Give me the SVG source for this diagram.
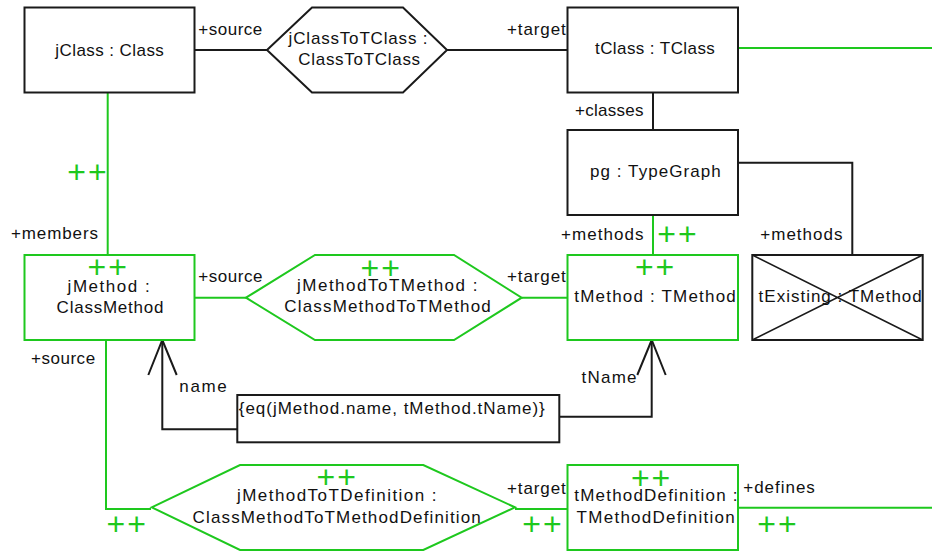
<svg xmlns="http://www.w3.org/2000/svg" width="932" height="552" viewBox="0 0 932 552">
  <style>
    .bg { fill: #ffffff; }
    .box { fill: #ffffff; stroke: #1a1a1a; stroke-width: 2; }
    .gbox { fill: #ffffff; stroke: #1ec81e; stroke-width: 2; }
    .ln { fill: none; stroke: #1a1a1a; stroke-width: 2; }
    .gln { fill: none; stroke: #1ec81e; stroke-width: 2; }
    .thin { fill: none; stroke: #1a1a1a; stroke-width: 1.5; }
    text { font-family: "Liberation Sans", Arial, sans-serif; font-size: 17px; fill: #111111; }
    text.pp { font-size: 32px; letter-spacing: 2px; fill: #1ec81e; }
  </style>
  <rect class="bg" x="0" y="0" width="932" height="552"/>

  <!-- connectors -->
  <g id="connectors">
    <!-- class correspondence -->
    <path class="ln" d="M194.5 50 H267"/>
    <path class="ln" d="M447 50 H567.5"/>
    <path class="gln" d="M738 48 H932"/>
    <!-- type graph links -->
    <path class="ln" d="M653 92.5 V130"/>
    <path class="ln" d="M738 162.7 H852.3 V255"/>
    <path class="gln" d="M653 215 V255"/>
    <!-- class members -->
    <path class="gln" d="M107.7 92.5 V255"/>
    <!-- method correspondence -->
    <path class="gln" d="M194.5 297.7 H246"/>
    <path class="gln" d="M521.7 297.7 H567.5"/>
    <!-- method definition correspondence -->
    <path class="gln" d="M106 340 V509 H151"/>
    <path class="gln" d="M515 509 H567.5"/>
    <path class="gln" d="M738 507.7 H932"/>
    <!-- attribute constraint links with open arrowheads -->
    <path class="ln" d="M237.3 429.3 H162.3 V341"/>
    <path class="ln" d="M148.3 375 L162.3 340 L176.7 375"/>
    <path class="ln" d="M559.3 416.7 H651.7 V341"/>
    <path class="ln" d="M637.3 375 L651.7 340 L665.7 375"/>
  </g>

  <!-- labels on connectors -->
  <g id="connector-labels">
    <text x="198.3" y="34.5" textLength="64" lengthAdjust="spacing">+source</text>
    <text x="507" y="34.5" textLength="58.8" lengthAdjust="spacing">+target</text>
    <text x="575" y="116" textLength="68.5" lengthAdjust="spacing">+classes</text>
    <text x="561" y="240" textLength="82.5" lengthAdjust="spacing">+methods</text>
    <text class="pp" x="657.2" y="244.6">++</text>
    <text x="760.3" y="240" textLength="82.2" lengthAdjust="spacing">+methods</text>
    <text x="11" y="239.3" textLength="87" lengthAdjust="spacing">+members</text>
    <text class="pp" x="67.2" y="183.3">++</text>
    <text x="198.3" y="282.3" textLength="64.2" lengthAdjust="spacing">+source</text>
    <text x="507" y="282.3" textLength="58.8" lengthAdjust="spacing">+target</text>
    <text x="31" y="364" textLength="64.1" lengthAdjust="spacing">+source</text>
    <text x="179.3" y="391.7" textLength="47.5" lengthAdjust="spacing">name</text>
    <text x="581.6" y="382.7" textLength="54.9" lengthAdjust="spacing">tName</text>
    <text class="pp" x="106.5" y="534.6">++</text>
    <text x="507" y="494.3" textLength="58.8" lengthAdjust="spacing">+target</text>
    <text class="pp" x="522.2" y="534.6">++</text>
    <text x="743.3" y="492.7" textLength="71.5" lengthAdjust="spacing">+defines</text>
    <text class="pp" x="757.2" y="535.3">++</text>
  </g>

  <g id="jClass">
    <rect class="box" x="24.5" y="7.5" width="170" height="85"/>
    <text x="55.3" y="55.5" textLength="108.5" lengthAdjust="spacing">jClass : Class</text>
  </g>

  <g id="jClassToTClass">
    <polygon class="box" points="267,50 312,7.5 403,7.5 447,50 403,92.5 312,92.5"/>
    <text x="288.6" y="43.5" textLength="138.9" lengthAdjust="spacing">jClassToTClass :</text>
    <text x="298.3" y="64.5" textLength="121.8" lengthAdjust="spacing">ClassToTClass</text>
  </g>

  <g id="tClass">
    <rect class="box" x="567.5" y="7.5" width="170.5" height="85"/>
    <text x="595" y="53.5" textLength="119.8" lengthAdjust="spacing">tClass : TClass</text>
  </g>

  <g id="pg">
    <rect class="box" x="567.5" y="130" width="170.5" height="85"/>
    <text x="590" y="176.7" textLength="130.8" lengthAdjust="spacing">pg : TypeGraph</text>
  </g>

  <g id="jMethod">
    <rect class="gbox" x="24.5" y="255" width="170" height="85"/>
    <text class="pp" x="87.5" y="278">++</text>
    <text x="67.6" y="291.7" textLength="82.2" lengthAdjust="spacing">jMethod :</text>
    <text x="56.6" y="313.3" textLength="106.9" lengthAdjust="spacing">ClassMethod</text>
  </g>

  <g id="jMethodToTMethod">
    <polygon class="gbox" points="246,297.7 315,255 454,255 521.7,297.7 454,340 315,340"/>
    <text class="pp" x="360.5" y="278.6">++</text>
    <text x="297" y="291" textLength="180.5" lengthAdjust="spacing">jMethodToTMethod :</text>
    <text x="284.3" y="312.3" textLength="206.5" lengthAdjust="spacing">ClassMethodToTMethod</text>
  </g>

  <g id="tMethod">
    <rect class="gbox" x="567.5" y="255" width="170.5" height="85"/>
    <text class="pp" x="634.9" y="278">++</text>
    <text x="574.3" y="301.7" textLength="161.5" lengthAdjust="spacing">tMethod : TMethod</text>
  </g>

  <g id="tExisting">
    <rect class="box" x="752.3" y="255" width="170.4" height="85"/>
    <path class="thin" d="M752.3 255 L922.7 340 M752.3 340 L922.7 255"/>
    <text x="758.6" y="301.7" textLength="163.2" lengthAdjust="spacing">tExisting : TMethod</text>
  </g>

  <g id="constraint">
    <rect class="box" x="237.3" y="395" width="322" height="47.3"/>
    <text x="238.8" y="414" textLength="306" lengthAdjust="spacing">{eq(jMethod.name, tMethod.tName)}</text>
  </g>

  <g id="jMethodToTDefinition">
    <polygon class="gbox" points="151.7,507.3 240,465 423.3,465 515,507.3 423.3,550 240,550"/>
    <text class="pp" x="316.5" y="488">++</text>
    <text x="237" y="501" textLength="199.5" lengthAdjust="spacing">jMethodToTDefinition :</text>
    <text x="192.6" y="522.7" textLength="288.2" lengthAdjust="spacing">ClassMethodToTMethodDefinition</text>
  </g>

  <g id="tMethodDefinition">
    <rect class="gbox" x="567.5" y="465" width="170.5" height="85"/>
    <text class="pp" x="630.9" y="488.6">++</text>
    <text x="574.3" y="501" textLength="163.2" lengthAdjust="spacing">tMethodDefinition :</text>
    <text x="576.6" y="523.3" textLength="158.2" lengthAdjust="spacing">TMethodDefinition</text>
  </g>
</svg>
